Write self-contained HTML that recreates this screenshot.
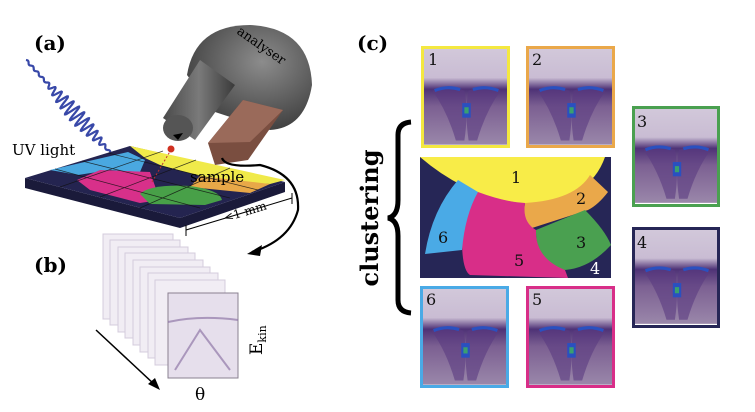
<!DOCTYPE html>
<html><head><meta charset="utf-8"><style>
html,body{margin:0;padding:0;background:#fff;width:755px;height:412px;overflow:hidden}
svg{display:block}
text{font-family:"DejaVu Serif","Liberation Serif",serif}
</style></head><body>
<svg width="755" height="412" viewBox="0 0 755 412" xmlns="http://www.w3.org/2000/svg">
<defs>
<linearGradient id="pg" x1="0" y1="0" x2="0" y2="1">
<stop offset="0" stop-color="#d2c8da"/><stop offset="0.3" stop-color="#c9bcd3"/><stop offset="0.42" stop-color="#4e3276"/><stop offset="0.6" stop-color="#7c6092"/><stop offset="1" stop-color="#9a87aa"/></linearGradient>
<radialGradient id="dome" cx="0.6" cy="0.35" r="0.7"><stop offset="0" stop-color="#8c8c8c"/><stop offset="1" stop-color="#3c3c3c"/></radialGradient>
<linearGradient id="cyl" x1="0" y1="0" x2="1" y2="0"><stop offset="0" stop-color="#4a4a4a"/><stop offset="0.5" stop-color="#7a7a7a"/><stop offset="1" stop-color="#3a3a3a"/></linearGradient>
<g id="spec">
<rect x="0" y="0" width="80" height="92" fill="url(#pg)"/>
<path d="M8 40 Q25 34 38 40 Q42 60 38 88 L30 88 Q22 60 8 40Z" fill="#5a3a80" opacity="0.6"/>
<path d="M72 40 Q55 34 42 40 Q38 60 42 88 L50 88 Q58 60 72 40Z" fill="#5a3a80" opacity="0.6"/>
<path d="M10 40 Q22 35 34 39" stroke="#2a50c0" stroke-width="3" fill="none"/>
<path d="M46 39 Q58 35 70 40" stroke="#2a50c0" stroke-width="3" fill="none"/>
<rect x="36" y="52" width="8" height="14" fill="#2a50c0"/>
<rect x="38" y="56" width="4" height="6" fill="#3aa070"/>
</g>
</defs>

<text x="34" y="50" font-size="20" font-weight="bold">(a)</text>
<path id="wave" d="" fill="none" stroke="#3848a8" stroke-width="2.2"/>
<polygon points="124,167 136,184 131,166" fill="#3848a8"/>
<text x="12" y="155" font-size="15">UV light</text>
<polygon points="25,178 180,218 285,182 285,192 180,228 25,188" fill="#1a1a3a"/>
<polygon points="25,178 130,146 285,182 180,218" fill="#242450"/>
<polygon points="50,170 128,152 145,160 140,172 110,170 78,175" fill="#4aa8e0"/>
<polygon points="130,146 285,180 270,184 240,182 200,176 160,165 145,158" fill="#f0ea4a"/>
<polygon points="200,176 270,184 250,193 190,187" fill="#e8a848"/>
<polygon points="77,180 100,170 150,172 160,200 140,203 90,190" fill="#d8308a"/>
<path d="M140 194 Q150 184 190 186 Q220 190 222 200 L205 205 L150 204 Z" fill="#48a048"/>
<g stroke="#111" stroke-width="0.7" opacity="0.8">
<line x1="55" y1="169" x2="200" y2="208"/><line x1="82" y1="161" x2="230" y2="198"/><line x1="108" y1="153" x2="258" y2="190"/>
<line x1="60" y1="187" x2="163" y2="151"/><line x1="100" y1="197" x2="196" y2="160"/><line x1="140" y1="208" x2="230" y2="168"/>
</g>
<text x="190" y="182" font-size="15">sample</text>
<line x1="152" y1="182" x2="172" y2="148" stroke="#c03030" stroke-dasharray="2,2"/>
<circle cx="171" cy="149" r="3.5" fill="#d03020"/>
<path d="M187 75 Q195 25 250 25 Q310 28 312 85 Q305 128 270 130 L215 112 Z" fill="url(#dome)"/>
<polygon points="163,118 200,60 235,85 195,140" fill="url(#cyl)"/>
<ellipse cx="178" cy="128" rx="15" ry="13" fill="#555"/>
<polygon points="178,140 173,135 183,133" fill="#000"/>
<polygon points="208,143 243,100 283,110 248,160 215,165" fill="#7a4e40"/>
<polygon points="208,143 243,100 283,110 250,142" fill="#9a6a5a"/>
<text x="236" y="33" font-size="13" transform="rotate(35 236 33)">analyser</text>
<path d="M222 158 Q225 168 260 165 Q300 175 298 210 Q290 240 252 252" fill="none" stroke="#000" stroke-width="2.2"/>
<polygon points="247,254 262,245 260,256" fill="#000"/>
<line x1="186" y1="230" x2="292" y2="198" stroke="#000"/>
<line x1="186" y1="225" x2="186" y2="236" stroke="#000"/><line x1="292" y1="193" x2="292" y2="204" stroke="#000"/>
<text x="225" y="222" font-size="12" transform="rotate(-17 225 222)" fill="#000">&lt;1 mm</text>

<text x="34" y="272" font-size="20" font-weight="bold">(b)</text>
<g fill="#f1edf4" stroke="#d4ccdc" stroke-width="1">
<rect x="103" y="234" width="70" height="85"/><rect x="110" y="240" width="70" height="85"/><rect x="118" y="247" width="70" height="85"/><rect x="125" y="253" width="70" height="85"/><rect x="133" y="260" width="70" height="85"/><rect x="140" y="267" width="70" height="85"/><rect x="148" y="273" width="70" height="85"/><rect x="155" y="280" width="70" height="85"/>
</g>
<rect x="168" y="293" width="70" height="85" fill="#e6dfec" stroke="#8a8090"/>
<path d="M168 322 Q200 315 238 320 M175 370 L200 330 L230 370" fill="none" stroke="#9078a8" stroke-width="2" opacity="0.7"/>
<line x1="96" y1="330" x2="155" y2="385" stroke="#000" stroke-width="1.5"/>
<polygon points="160,390 148,384 155,378" fill="#000"/>
<text x="195" y="400" font-size="17">θ</text>
<text x="262" y="355" font-size="17" transform="rotate(-90 262 355)">E<tspan font-size="11" dy="4">kin</tspan></text>

<text x="357" y="50" font-size="20" font-weight="bold">(c)</text>
<text x="378" y="218" font-size="24" font-weight="bold" text-anchor="middle" transform="rotate(-90 378 218)">clustering</text>
<path d="M411 122 Q398 123 398 135 L398 200 Q398 216 388 218 Q398 220 398 236 L398 300 Q398 312 411 313" fill="none" stroke="#000" stroke-width="5"/>
<rect x="420" y="157" width="191" height="121" fill="#262656"/>
<path d="M420 157 L605 157 Q590 200 530 204 Q470 200 420 157Z" fill="#f8ec48"/>
<path d="M525 203 Q575 200 590 175 L608 192 Q598 205 588 210 L532 228 Q522 220 525 203Z" fill="#eaa84a"/>
<path d="M536 230 L585 210 Q605 230 611 245 Q590 268 565 270 Q535 262 536 230Z" fill="#4aa050"/>
<path d="M478 192 Q505 202 525 203 Q522 222 536 230 Q535 258 565 270 L568 278 L470 275 Q462 270 462 240 Q465 205 478 192Z" fill="#d82e88"/>
<path d="M458 180 L478 192 Q465 215 462 250 L425 254 Q432 210 458 180Z" fill="#4aaae6"/>
<g font-size="16" fill="#111"><text x="511" y="183">1</text><text x="576" y="204">2</text><text x="576" y="248">3</text><text x="514" y="266">5</text><text x="438" y="243">6</text><text x="590" y="274" fill="#fff">4</text></g>
<g>
<use href="#spec" transform="translate(424,49) scale(1.0625,1.04)"/><rect x="422.5" y="47.5" width="86" height="99" fill="none" stroke="#f4e840" stroke-width="3"/>
<use href="#spec" transform="translate(529,49) scale(1.0625,1.04)"/><rect x="527.5" y="47.5" width="86" height="99" fill="none" stroke="#eaa84a" stroke-width="3"/>
<use href="#spec" transform="translate(635,109) scale(1.05,1.02)"/><rect x="633.5" y="107.5" width="85" height="98" fill="none" stroke="#4aa050" stroke-width="3"/>
<use href="#spec" transform="translate(635,230) scale(1.05,1.02)"/><rect x="633.5" y="228.5" width="85" height="98" fill="none" stroke="#262656" stroke-width="3"/>
<use href="#spec" transform="translate(423,289) scale(1.0625,1.04)"/><rect x="421.5" y="287.5" width="86" height="99" fill="none" stroke="#4aaae6" stroke-width="3"/>
<use href="#spec" transform="translate(529,289) scale(1.0625,1.04)"/><rect x="527.5" y="287.5" width="86" height="99" fill="none" stroke="#d82e88" stroke-width="3"/>
</g>
<g font-size="16" fill="#111"><text x="428" y="65">1</text><text x="532" y="65">2</text><text x="637" y="127">3</text><text x="637" y="248">4</text><text x="426" y="305">6</text><text x="532" y="305">5</text></g>
</svg>
<script>
(function(){var x0=26,y0=60,x1=126,y1=170,dx=x1-x0,dy=y1-y0,L=Math.hypot(dx,dy),ux=dx/L,uy=dy/L,nx=uy,ny=-ux,d="";
for(var i=0;i<=400;i++){var t=i/400,s=t*L,a=t<0.2?1:(t<0.8?1+7*Math.sin((t-0.2)/0.6*Math.PI):1);var o=a*Math.sin(s/3.8*Math.PI);
var x=x0+ux*s+nx*o,y=y0+uy*s+ny*o;d+=(i?"L":"M")+x.toFixed(1)+" "+y.toFixed(1);}
document.getElementById("wave").setAttribute("d",d);})();
</script>
</body></html>
